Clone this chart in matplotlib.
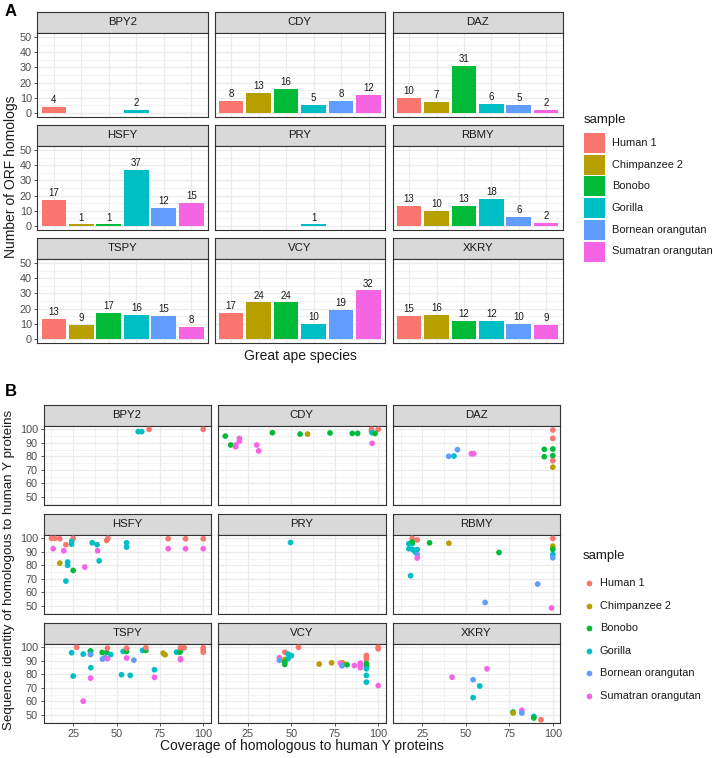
import matplotlib
matplotlib.use("Agg")
import matplotlib.pyplot as plt
from matplotlib.patches import Rectangle

plt.rcParams['font.family'] = ['Liberation Sans', 'DejaVu Sans']

# ---------------- data ----------------
species = ["Human 1", "Chimpanzee 2", "Bonobo", "Gorilla",
           "Bornean orangutan", "Sumatran orangutan"]
species_codes = ["H", "C", "B", "G", "O", "S"]
colors = ["#F8766D", "#B79F00", "#00BA38", "#00BFC4", "#619CFF", "#F564E3"]
genes = ["BPY2", "CDY", "DAZ", "HSFY", "PRY", "RBMY", "TSPY", "VCY", "XKRY"]

# Panel A: number of ORF homologs per species (0 = no bar)
bpy2_counts = [4, 0, 0, 2, 0, 0]
cdy_counts = [8, 13, 16, 5, 8, 12]
daz_counts = [10, 7, 31, 6, 5, 2]
hsfy_counts = [17, 1, 1, 37, 12, 15]
pry_counts = [0, 0, 0, 1, 0, 0]
rbmy_counts = [13, 10, 13, 18, 6, 2]
tspy_counts = [13, 9, 17, 16, 15, 8]
vcy_counts = [17, 24, 24, 10, 19, 32]
xkry_counts = [15, 16, 12, 12, 10, 9]

# Panel B: coverage (x), identity (y), species code
bpy2_cov = [68.8, 100, 62.5, 64.5]
bpy2_id = [100, 100, 98.3, 98.3]
bpy2_sp = ["H", "H", "G", "G"]

cdy_cov = [12.1, 15.2, 18.1, 18.1, 20.2, 20.2, 30.2, 31.3, 39.2, 55.1, 59.4, 72.3,
           85.1, 88.2, 96.1, 96.1, 100, 96.5, 98.2, 96.5]
cdy_id = [95.0, 88.4, 88.4, 87.0, 93.3, 91.3, 88.4, 84.0, 97.5, 96.5, 96.5, 97.3,
          97.0, 97.0, 100, 98.5, 100, 97.5, 97.0, 89.6]
cdy_sp = ["B", "B", "S", "S", "S", "S", "S", "S", "B", "B", "C", "B",
          "B", "B", "H", "H", "H", "G", "B", "S"]

daz_cov = [100, 100, 95.1, 100, 95.1, 100, 100, 100, 45.2, 40.2, 43.2, 53.2, 54.6]
daz_id = [99.5, 93.3, 85.2, 85.4, 79.7, 80.5, 76.8, 71.9, 84.9, 80.0, 80.2, 81.9, 81.9]
daz_sp = ["H", "H", "B", "B", "B", "B", "H", "C", "O", "O", "G", "S", "S"]

hsfy_cov = [12.5, 14.5, 13.5, 17.3, 20.8, 25.0, 24.1, 24.1, 19.6, 17.3, 21.8, 21.8,
            25.0, 20.8, 31.7, 36.0, 38.8, 44.3, 45.0, 39.1, 40.0, 55.8, 55.8,
            79.8, 89.8, 100, 79.8, 89.8, 100]
hsfy_id = [100, 100, 92.3, 99.7, 95.3, 100, 97.7, 95.7, 90.8, 81.6, 82.4, 80.0,
           76.2, 68.3, 78.7, 96.7, 95.3, 98.4, 100, 90.8, 83.3, 96.7, 93.5,
           99.7, 99.7, 99.7, 92.3, 92.3, 92.3]
hsfy_sp = ["H", "H", "S", "H", "H", "H", "G", "G", "S", "C", "G", "G",
           "B", "G", "S", "G", "G", "H", "H", "S", "G", "G", "G",
           "H", "H", "H", "S", "S", "S"]

pry_cov = [49.2]
pry_id = [97.0]
pry_sp = ["G"]

rbmy_cov = [19.2, 22.1, 17.3, 19.2, 19.2, 17.3, 19.6, 21.0, 22.1, 22.1, 22.1, 18.3,
            29.2, 40.3, 69.1, 100, 100, 100, 100, 100, 91.3, 61.1, 99.3]
rbmy_id = [100, 98.8, 96.0, 96.0, 97.2, 92.3, 91.6, 89.8, 91.6, 87.9, 85.4, 72.3,
           96.7, 96.4, 89.5, 99.9, 94.2, 91.8, 87.9, 85.6, 66.1, 52.4, 48.4]
rbmy_sp = ["H", "H", "G", "G", "B", "G", "G", "G", "G", "O", "S", "G",
           "B", "C", "B", "H", "C", "B", "G", "O", "O", "O", "S"]

tspy_cov = [27.0, 24.1, 30.8, 35.0, 35.0, 35.0, 35.0, 35.2, 25.0, 35.0, 30.8, 41.7,
            44.3, 46.7, 41.9, 43.3, 44.8, 44.8, 53.8, 55.8, 55.8, 55.8, 60.0, 52.9,
            57.9, 65.0, 66.9, 66.9, 71.9, 71.9, 76.9, 78.0, 84.6, 86.5, 86.9, 86.9,
            89.0, 86.9, 86.9, 100, 100, 100]
tspy_id = [100, 96.0, 95.0, 97.2, 97.2, 95.3, 94.7, 84.9, 78.7, 77.2, 60.1, 96.2,
           96.2, 94.7, 91.3, 92.3, 91.6, 99.4, 97.0, 97.0, 99.4, 92.1, 90.5, 79.7,
           79.2, 97.7, 97.7, 99.7, 83.4, 77.7, 95.7, 94.5, 96.4, 96.4, 97.7, 99.7,
           99.7, 91.6, 90.8, 99.7, 98.2, 96.4]
tspy_sp = ["H", "G", "G", "G", "B", "G", "O", "G", "G", "S", "S", "B",
           "B", "G", "O", "O", "S", "H", "G", "B", "H", "S", "O", "G",
           "G", "G", "B", "H", "G", "S", "C", "C", "G", "B", "B", "H",
           "H", "S", "S", "H", "H", "H"]

vcy_cov = [54.2, 46.3, 48.2, 50.1, 43.2, 43.2, 46.3, 48.2, 46.3, 46.3, 66.1, 73.2,
           79.5, 78.2, 79.2, 82.1, 86.3, 89.7, 89.7, 89.7, 93.2, 93.2, 93.2, 93.2,
           93.2, 93.2, 93.2, 93.2, 100, 100, 100]
vcy_id = [100, 96.4, 95.0, 93.8, 92.3, 90.3, 91.0, 91.6, 89.0, 87.3, 87.6, 88.5,
          88.5, 88.3, 86.3, 87.1, 86.5, 88.3, 86.5, 84.9, 94.0, 92.7, 91.0, 87.9,
          86.3, 84.1, 79.2, 74.2, 100, 98.9, 71.6]
vcy_sp = ["H", "H", "G", "G", "S", "O", "C", "G", "B", "B", "C", "C",
          "C", "S", "O", "B", "S", "S", "S", "S", "H", "H", "H", "B",
          "B", "G", "G", "G", "H", "H", "S"]

xkry_cov = [42.1, 62.2, 54.2, 58.0, 54.2, 77.2, 77.2, 82.2, 82.2, 89.1, 89.1, 93.2]
xkry_id = [77.9, 84.1, 76.0, 71.3, 62.7, 52.0, 51.3, 53.3, 51.3, 48.8, 47.6, 46.3]
xkry_sp = ["S", "S", "O", "G", "G", "B", "C", "S", "O", "G", "B", "H"]

counts = [bpy2_counts, cdy_counts, daz_counts, hsfy_counts, pry_counts,
          rbmy_counts, tspy_counts, vcy_counts, xkry_counts]
scatter = [(bpy2_cov, bpy2_id, bpy2_sp), (cdy_cov, cdy_id, cdy_sp),
           (daz_cov, daz_id, daz_sp), (hsfy_cov, hsfy_id, hsfy_sp),
           (pry_cov, pry_id, pry_sp), (rbmy_cov, rbmy_id, rbmy_sp),
           (tspy_cov, tspy_id, tspy_sp), (vcy_cov, vcy_id, vcy_sp),
           (xkry_cov, xkry_id, xkry_sp)]

# ---------------- layout ----------------
W, H = 713, 758
fig = plt.figure(figsize=(W / 100, H / 100), dpi=100)

def rect(x0, y0, x1, y1):
    return [x0 / W, 1 - y1 / H, (x1 - x0) / W, (y1 - y0) / H]

BORDER = "#333333"
GRID = "#EBEBEB"
TICKC = "#4D4D4D"
STRIP = "#D9D9D9"

def style_panel(ax):
    ax.set_facecolor("white")
    for s in ax.spines.values():
        s.set_color(BORDER)
        s.set_linewidth(0.8)
    ax.grid(True, which="major", color=GRID, linewidth=0.9)
    ax.grid(True, which="minor", color=GRID, linewidth=0.45)
    ax.set_axisbelow(True)
    ax.tick_params(which="major", length=2.5, width=0.6, color=BORDER,
                   labelsize=7.8, labelcolor=TICKC, pad=1.5)
    ax.tick_params(which="minor", length=0)

def strip(x0, x1, y0, y1, label):
    sa = fig.add_axes(rect(x0, y0, x1, y1))
    sa.set_facecolor(STRIP)
    sa.set_xticks([]); sa.set_yticks([])
    for s in sa.spines.values():
        s.set_color(BORDER)
        s.set_linewidth(0.8)
    sa.text(0.5, 0.5, label, ha="center", va="center", fontsize=8.2,
            color="#1A1A1A", transform=sa.transAxes)

# Panel A
colsA = [(37.4, 207.8), (214.6, 385.0), (392.7, 562.6)]
stripA_h, panelA_h, gapA = 21.5, 83.5, 8.0
topA = 11.7
xpos = list(range(1, 7))
for gi, gene in enumerate(genes):
    r, c = divmod(gi, 3)
    x0, x1 = colsA[c]
    s0 = topA + r * (stripA_h + panelA_h + gapA)
    p0 = s0 + stripA_h
    p1 = p0 + panelA_h
    strip(x0, x1, s0, p0, gene)
    ax = fig.add_axes(rect(x0, p0, x1, p1))
    style_panel(ax)
    vals = counts[gi]
    for xi, v, col in zip(xpos, vals, colors):
        if v > 0:
            ax.bar(xi, v, width=0.9, color=col, edgecolor="none", zorder=2)
            ax.text(xi, v + 1.2, str(v), ha="center", va="bottom",
                    fontsize=7, color="#1A1A1A", zorder=3)
    ax.set_xlim(0.4, 6.6)
    ax.set_ylim(-2.5, 52.5)
    ax.set_xticks(xpos)
    ax.set_xticklabels([])
    ax.tick_params(axis="x", length=0)
    ax.set_yticks([0, 10, 20, 30, 40, 50])
    ax.set_yticks([5, 15, 25, 35, 45], minor=True)
    if c == 0:
        ax.set_yticklabels(["0", "10", "20", "30", "40", "50"])
    else:
        ax.set_yticklabels([])
        ax.tick_params(axis="y", length=0)

# Panel B
colsB = [(43.5, 210.7), (218.0, 385.7), (392.5, 560.3)]
stripB_h, panelB_h, gapB = 21.0, 79.7, 8.3
topB = 404.7
code_to_color = dict(zip(species_codes, colors))
for gi, gene in enumerate(genes):
    r, c = divmod(gi, 3)
    x0, x1 = colsB[c]
    s0 = topB + r * (stripB_h + panelB_h + gapB)
    p0 = s0 + stripB_h
    p1 = p0 + panelB_h
    strip(x0, x1, s0, p0, gene)
    ax = fig.add_axes(rect(x0, p0, x1, p1))
    style_panel(ax)
    cov, ident, sp = scatter[gi]
    ax.scatter(cov, ident, s=17, c=[code_to_color[k] for k in sp],
               linewidths=0, zorder=3)
    ax.set_xlim(7.9, 104.3)
    ax.set_ylim(43.6, 102.7)
    ax.set_xticks([25, 50, 75, 100])
    ax.set_xticks([12.5, 37.5, 62.5, 87.5], minor=True)
    ax.set_yticks([50, 60, 70, 80, 90, 100])
    ax.set_yticks([45, 55, 65, 75, 85, 95], minor=True)
    if c != 0:
        ax.set_yticklabels([])
        ax.tick_params(axis="y", length=0)
    if r != 2:
        ax.set_xticklabels([])
        ax.tick_params(axis="x", length=0)

# ---------------- annotations ----------------
fig.text(5 / W, 1 - 4 / H, "A", fontsize=12, fontweight="bold", ha="left", va="top")
fig.text(5 / W, 1 - 384 / H, "B", fontsize=12, fontweight="bold", ha="left", va="top")

fig.text(300 / W, 1 - 356 / H, "Great ape species", fontsize=10, ha="center", va="center",
         color="#1A1A1A")
fig.text(11 / W, 1 - 177 / H, "Number of ORF homologs", fontsize=10, rotation=90,
         ha="center", va="center", color="#1A1A1A")
fig.text(302 / W, 1 - 746 / H, "Coverage of homologous to human Y proteins", fontsize=10,
         ha="center", va="center", color="#1A1A1A")
fig.text(9 / W, 1 - 570 / H, "Sequence identity of homologous to human Y proteins",
         fontsize=9.6, rotation=90, ha="center", va="center", color="#1A1A1A")

# legends (pixel overlay)
ov = fig.add_axes([0, 0, 1, 1], facecolor="none")
ov.set_xlim(0, W); ov.set_ylim(H, 0); ov.axis("off")

ov.text(584, 119.5, "sample", fontsize=9.5, ha="left", va="center", color="#1A1A1A")
keyA_top, keyA_step = 133, 21.7
for i, (name, col) in enumerate(zip(species, colors)):
    y0 = keyA_top + i * keyA_step
    ov.add_patch(Rectangle((584, y0), 21, keyA_step - 1.7, facecolor=col,
                           edgecolor="none"))
    ov.text(612, y0 + (keyA_step - 1.7) / 2, name, fontsize=7.9, ha="left",
            va="center", color="#1A1A1A")

ov.text(583, 556, "sample", fontsize=9.5, ha="left", va="center", color="#1A1A1A")
keyB_top, keyB_step = 583, 22.6
for i, (name, col) in enumerate(zip(species, colors)):
    yc = keyB_top + i * keyB_step
    ov.scatter([589], [yc], s=17, color=col, linewidths=0)
    ov.text(600, yc, name, fontsize=7.9, ha="left", va="center", color="#1A1A1A")

fig.savefig("out.png", dpi=100, facecolor="white")
